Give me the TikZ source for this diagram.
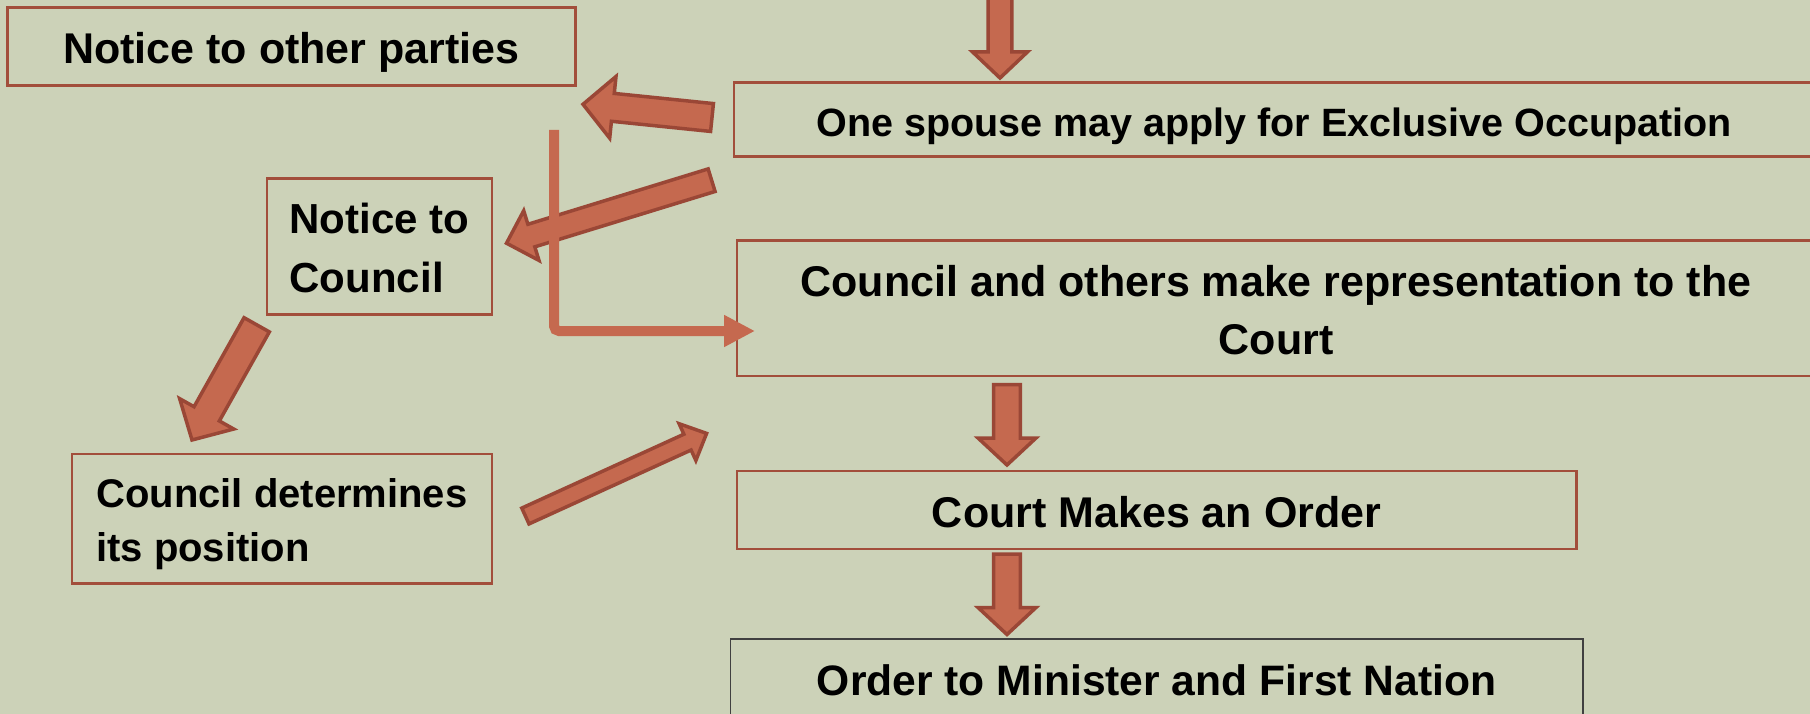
\documentclass[tikz,border=0pt]{standalone}
\usepackage{fontspec}
\setmainfont{Liberation Sans}
\usetikzlibrary{calc,arrows.meta}
\definecolor{bg}{HTML}{CCD2B8}
\definecolor{arrowfill}{HTML}{C5694F}
\definecolor{arrowline}{HTML}{9A4736}
\definecolor{boxline}{HTML}{A24E3B}
\definecolor{darkline}{HTML}{404040}
\newcommand\fsz[2]{\bfseries\fontsize{#1}{#2}\selectfont}
\tikzset{
  box/.style={draw=boxline, line width=2.5pt, inner sep=0pt, text depth=0pt},
  blockarrow/.style={fill=arrowfill, draw=arrowline, line width=3.5pt, line join=miter},
  elbowline/.style={draw=arrowfill, line width=10pt, rounded corners=5pt,
    -{Triangle[length=31pt,width=30pt]}}
}
\newcommand\blockarrow[5]{% tail, tip, shaft half width, head half width, head length
  \coordinate (ba-h) at ($(#2)!#5!(#1)$);
  \draw[blockarrow] ($(#1)!#3!90:(#2)$) -- ($(ba-h)!#3!90:(#2)$) -- ($(ba-h)!#4!90:(#2)$)
    -- (#2) -- ($(ba-h)!#4!-90:(#2)$) -- ($(ba-h)!#3!-90:(#2)$) -- ($(#1)!#3!-90:(#2)$) -- cycle;
}
\begin{document}
\begin{tikzpicture}[x=1pt,y=-1pt]
\useasboundingbox (0,0) rectangle (1810,714);
\fill[bg] (0,0) rectangle (1810,714);
\clip (0,0) rectangle (1810,714);

% boxes
\node[box, minimum width=568pt, minimum height=78pt, font=\fsz{43}{52}, text height=35.4pt]
  (others) at (291.4,46.3) {Notice to other parties};
\node[box, minimum width=1080pt, minimum height=74pt, font=\fsz{39.5}{48}, text height=34pt]
  (apply) at (1274,119.7) {One spouse may apply for Exclusive Occupation};
\node[box, minimum width=225pt, minimum height=136pt, font=\fsz{42}{59}, align=left, text height=92.8pt]
  (council) at (379.5,246.3) {Notice to\\Council};
\node[box, minimum width=1078pt, minimum height=135.5pt, font=\fsz{43}{58}, align=center, text height=91.4pt]
  (represent) at (1276,308.3) {Council and others make representation to the\\Court};
\node[box, minimum width=420.3pt, minimum height=129.3pt, font=\fsz{40}{54}, align=left, text height=86pt]
  (determine) at (281.9,518.7) {Council determines\\its position};
\node[box, minimum width=839.6pt, minimum height=78.3pt, font=\fsz{43}{52}, text height=35.6pt]
  (order) at (1156.6,509.9) {Court Makes an Order};
\node[box, draw=darkline, line width=1.5pt, minimum width=852.4pt, minimum height=78pt, font=\fsz{42.6}{52}, text height=34pt]
  (minister) at (1156.6,678) {Order to Minister and First Nation};

% block arrows
\coordinate (a-tail) at (1000,-10);   \coordinate (a-tip) at (1000,78);
\coordinate (b-tail) at (712,117.5);  \coordinate (b-tip) at (583,104.3);
\coordinate (c-tail) at (711.6,180.2);\coordinate (c-tip) at (506.5,243.2);
\coordinate (d-tail) at (256.7,324.8);\coordinate (d-tip) at (192,440);
\coordinate (e-tail) at (525.4,516);  \coordinate (e-tip) at (706.6,433.4);
\coordinate (g-tail) at (1007,384.5); \coordinate (g-tip) at (1007,465);
\coordinate (h-tail) at (1007,554);   \coordinate (h-tip) at (1007,634.5);

\blockarrow{a-tail}{a-tip}{11.9pt}{27.4pt}{26pt}
\blockarrow{b-tail}{b-tip}{14pt}{31pt}{30pt}
\blockarrow{c-tail}{c-tip}{11.8pt}{26pt}{26pt}
\blockarrow{d-tail}{d-tip}{14.5pt}{31pt}{30pt}
\blockarrow{e-tail}{e-tip}{8.7pt}{20.2pt}{21pt}
\blockarrow{g-tail}{g-tip}{13.4pt}{29pt}{27pt}
\blockarrow{h-tail}{h-tip}{13.4pt}{29pt}{27pt}

% elbow connector
\coordinate (f-start) at (554,130);
\coordinate (f-end) at (755,331);
\draw[elbowline] (f-start) |- (f-end);
\end{tikzpicture}
\end{document}
